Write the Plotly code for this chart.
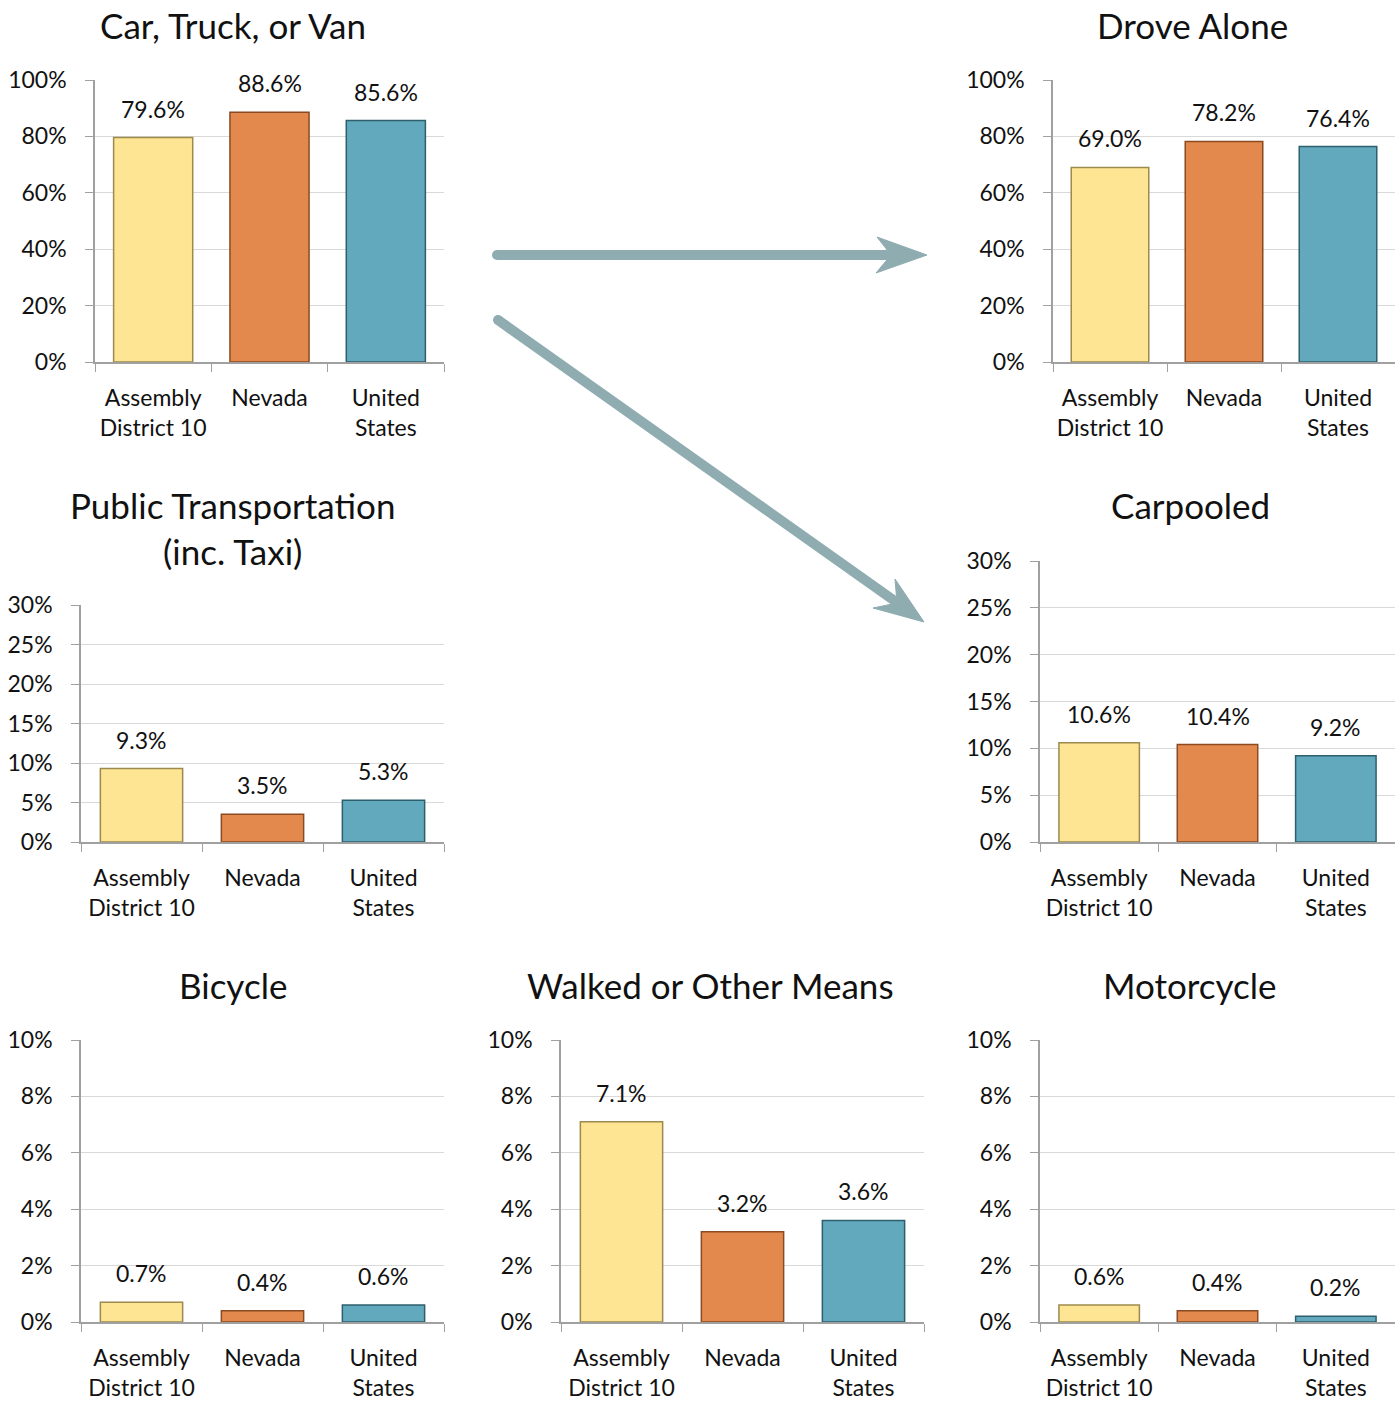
import plotly.graph_objects as go

W, H = 1395, 1401

categories = ["Assembly<br>District 10", "Nevada", "United<br>States"]
colors = ["#FDE593", "#E3894D", "#62A9BD"]
edge_colors = ["#9C8A4E", "#8A4A22", "#2E5F6C"]

car_truck_van = [79.6, 88.6, 85.6]
drove_alone = [69.0, 78.2, 76.4]
public_transport = [9.3, 3.5, 5.3]
carpooled = [10.6, 10.4, 9.2]
bicycle = [0.7, 0.4, 0.6]
walked_other = [7.1, 3.2, 3.6]
motorcycle = [0.6, 0.4, 0.2]

FONT = "Lato, 'Open Sans', sans-serif"
TICK_SIZE = 23
LABEL_SIZE = 23
TITLE_SIZE = 35

def px(x):
    return x / W

def py(y):
    return 1 - y / H

# panel: (values, left, right, top, bottom, ymax, dtick, title lines, title x, title ys)
panels = [
    (car_truck_van, 95, 444, 80, 362, 100, 20, ["Car, Truck, or Van"], 233, [25]),
    (drove_alone, 1053, 1395, 80, 362, 100, 20, ["Drove Alone"], 1192, [25]),
    (public_transport, 81, 444, 605, 842, 30, 5, ["Public Transportation", "(inc. Taxi)"], 233, [505, 551]),
    (carpooled, 1040, 1395, 561, 842, 30, 5, ["Carpooled"], 1190, [505]),
    (bicycle, 81, 444, 1040, 1322, 10, 2, ["Bicycle"], 233, [985]),
    (walked_other, 561, 924, 1040, 1322, 10, 2, ["Walked or Other Means"], 710, [985]),
    (motorcycle, 1040, 1395, 1040, 1322, 10, 2, ["Motorcycle"], 1190, [985]),
]

fig = go.Figure()
annotations = []
AXIS_COLOR = "#A0A0A0"

for i, (vals, l, r, t, b, ymax, dt, tlines, tx, tys) in enumerate(panels):
    n = i + 1
    xa = "x" if n == 1 else f"x{n}"
    ya = "y" if n == 1 else f"y{n}"
    fig.add_trace(go.Bar(
        x=categories, y=vals, xaxis=xa, yaxis=ya,
        marker=dict(color=colors, line=dict(color=edge_colors, width=1.5)),
        width=0.68, showlegend=False, hoverinfo="skip",
    ))
    for c, v in zip(categories, vals):
        annotations.append(dict(
            x=c, y=v, xref=xa, yref=ya, text=f"{v:.1f}%", showarrow=False,
            yanchor="bottom", yshift=13, font=dict(family=FONT, size=LABEL_SIZE, color="#111"),
        ))
    for tl, tyy in zip(tlines, tys):
        annotations.append(dict(
            x=px(tx), y=py(tyy), xref="paper", yref="paper", text=tl, showarrow=False,
            xanchor="center", yanchor="middle", font=dict(family=FONT, size=TITLE_SIZE, color="#111"),
        ))
    xkey = "xaxis" if n == 1 else f"xaxis{n}"
    ykey = "yaxis" if n == 1 else f"yaxis{n}"
    fig.update_layout(**{
        xkey: dict(
            domain=[px(l), min(px(r), 1.0)], anchor=ya, type="category",
            tickson="boundaries", ticks="outside", ticklen=8, tickcolor=AXIS_COLOR,
            showline=True, linecolor=AXIS_COLOR, linewidth=1.5, showgrid=False,
            tickfont=dict(family=FONT, size=TICK_SIZE, color="#111"), ticklabelstandoff=15,
            tickangle=0, fixedrange=True, automargin=False,
        ),
        ykey: dict(
            domain=[py(b), py(t)], anchor=xa, range=[0, ymax], dtick=dt,
            ticksuffix="%", ticks="outside", ticklen=8, tickcolor=AXIS_COLOR,
            showline=True, linecolor=AXIS_COLOR, linewidth=1.5,
            showgrid=True, gridcolor="#D9D9D9", gridwidth=1, zeroline=False,
            tickfont=dict(family=FONT, size=TICK_SIZE, color="#111"), ticklabelstandoff=14,
            fixedrange=True, automargin=False,
        ),
    })

ARROW = "#8FACB1"
shapes = []
# horizontal arrow
shapes.append(dict(type="line", xref="paper", yref="paper",
                   x0=px(497), y0=py(255), x1=px(893), y1=py(255),
                   line=dict(color=ARROW, width=10)))
shapes.append(dict(type="circle", xref="paper", yref="paper",
                   x0=px(492), y0=py(250), x1=px(502), y1=py(260),
                   fillcolor=ARROW, line=dict(width=0)))
shapes.append(dict(type="path", xref="paper", yref="paper",
                   path=(f"M {px(877)} {py(237)} L {px(927)} {py(255)} L {px(876)} {py(273)} "
                         f"L {px(891)} {py(255)} Z"),
                   fillcolor=ARROW, line=dict(color=ARROW, width=1)))
# diagonal arrow
shapes.append(dict(type="line", xref="paper", yref="paper",
                   x0=px(498), y0=py(320), x1=px(899), y1=py(604),
                   line=dict(color=ARROW, width=10)))
shapes.append(dict(type="circle", xref="paper", yref="paper",
                   x0=px(493), y0=py(315), x1=px(503), y1=py(325),
                   fillcolor=ARROW, line=dict(width=0)))
shapes.append(dict(type="path", xref="paper", yref="paper",
                   path=(f"M {px(895)} {py(579)} L {px(924)} {py(622)} L {px(873)} {py(608)} "
                         f"L {px(897)} {py(603)} Z"),
                   fillcolor=ARROW, line=dict(color=ARROW, width=1)))

fig.update_layout(
    width=W, height=H, autosize=False,
    margin=dict(l=0, r=0, t=0, b=0, autoexpand=False),
    paper_bgcolor="white", plot_bgcolor="white",
    annotations=annotations, shapes=shapes,
    font=dict(family=FONT, color="#111"),
    bargap=0.32,
)

fig.write_html("out.html", post_script="document.body.style.margin='0';",
               config={"displayModeBar": False})
